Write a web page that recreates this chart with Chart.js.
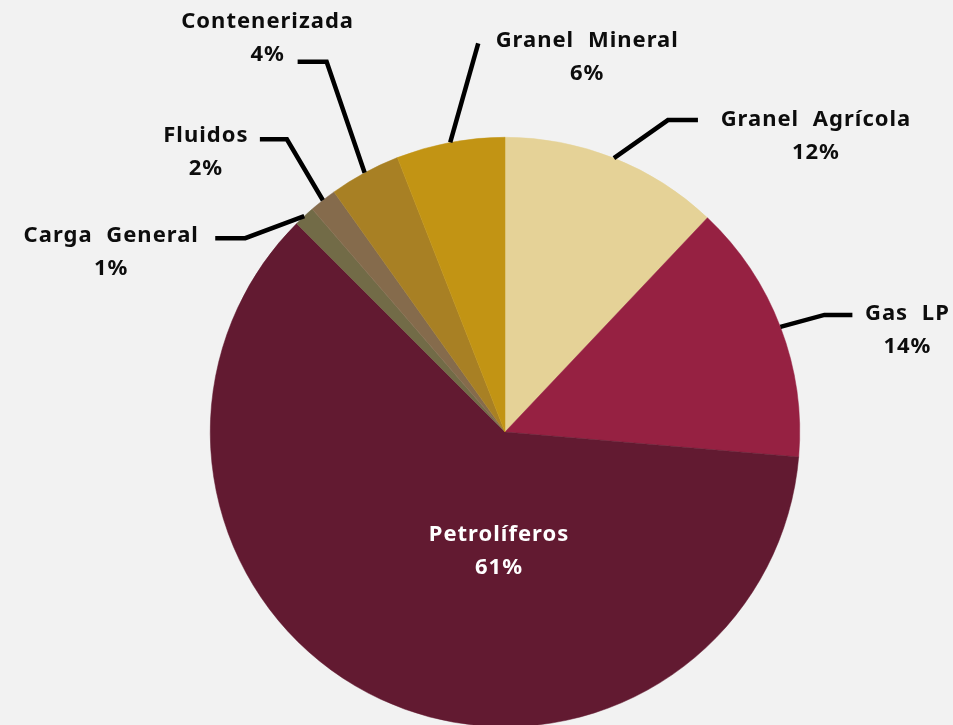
<!DOCTYPE html>
<html>
<head>
<meta charset="utf-8">
<title>Carga por tipo</title>
<script src="https://cdn.jsdelivr.net/npm/chart.js@4"></script>
<style>
  html, body { margin:0; padding:0; background:#f2f2f2; overflow:hidden; }
  #wrap { width:953px; height:740px; }
</style>
</head>
<body>
<div id="wrap"><canvas id="pie" width="953" height="740"></canvas></div>
<script>
// data (percent of total)
const categories = ['Granel Agrícola', 'Gas LP', 'Petrolíferos', 'Carga General', 'Fluidos', 'Contenerizada', 'Granel Mineral'];
const shares = [12.05, 14.3, 61.15, 1.15, 1.5, 3.9, 5.95];
const colors = ['#e5d297', '#962142', '#621a31', '#726b47', '#856b4c', '#a88024', '#c29414'];

// label layout: elbow offset from slice edge, horizontal tail, text offset from tail end
// null elbow = label drawn inside the slice, offset from pie centre
const labelLayout = [
  { elbow:[54,-38],  tail:30,  text:[118,0] },
  { elbow:[44,-12],  tail:28,  text:[55,-1] },
  { elbow:null,      text:[-6,103], color:'#ffffff' },
  { elbow:[-59,22],  tail:-30, text:[-104,-2] },
  { elbow:[-36,-61], tail:-27, text:[-54,-4] },
  { elbow:[-38,-111],tail:-29, text:[-30,-40] },
  { elbow:[28,-99],  tail:0,   text:[109,-3] }
];

const FONT = 'bold 22px "Noto Sans", "Open Sans", sans-serif';
const LINE_GAP = 33;

const leaderLabels = {
  id: 'leaderLabels',
  afterDatasetsDraw(chart) {
    const ctx = chart.ctx;
    const meta = chart.getDatasetMeta(0);
    ctx.save();
    ctx.font = FONT;
    ctx.letterSpacing = '1px';
    ctx.wordSpacing = '7px';
    ctx.textAlign = 'center';
    ctx.textBaseline = 'middle';
    meta.data.forEach((arc, i) => {
      const p = arc.getProps(['x','y','startAngle','endAngle','outerRadius'], true);
      const mid = (p.startAngle + p.endAngle) / 2;
      const lay = labelLayout[i];
      const pct = Math.round(shares[i]) + '%';
      let tx, ty;
      if (!lay.elbow) {
        tx = p.x + lay.text[0];
        ty = p.y + lay.text[1];
      } else {
        const ax = p.x + Math.cos(mid) * p.outerRadius;
        const ay = p.y + Math.sin(mid) * p.outerRadius;
        const ex = ax + lay.elbow[0], ey = ay + lay.elbow[1];
        const endX = ex + lay.tail;
        ctx.beginPath();
        ctx.moveTo(ax, ay);
        ctx.lineTo(ex, ey);
        ctx.lineTo(endX, ey);
        ctx.lineWidth = 4.5;
        ctx.strokeStyle = '#000';
        ctx.lineJoin = 'miter';
        ctx.stroke();
        tx = endX + lay.text[0];
        ty = ey + lay.text[1];
      }
      ctx.fillStyle = lay.color || '#0d0d0d';
      ctx.fillText(categories[i], tx, ty);
      ctx.fillText(pct, tx, ty + LINE_GAP);
    });
    ctx.restore();
  }
};

new Chart(document.getElementById('pie'), {
  type: 'pie',
  data: {
    labels: categories,
    datasets: [{ data: shares, backgroundColor: colors, borderColor: colors, borderWidth: 0.5 }]
  },
  options: {
    responsive: false,
    animation: false,
    events: [],
    layout: { padding: { left: 210, right: 153, top: 137, bottom: 13 } },
    plugins: { legend: { display: false }, tooltip: { enabled: false } }
  },
  plugins: [leaderLabels]
});
</script>
</body>
</html>
